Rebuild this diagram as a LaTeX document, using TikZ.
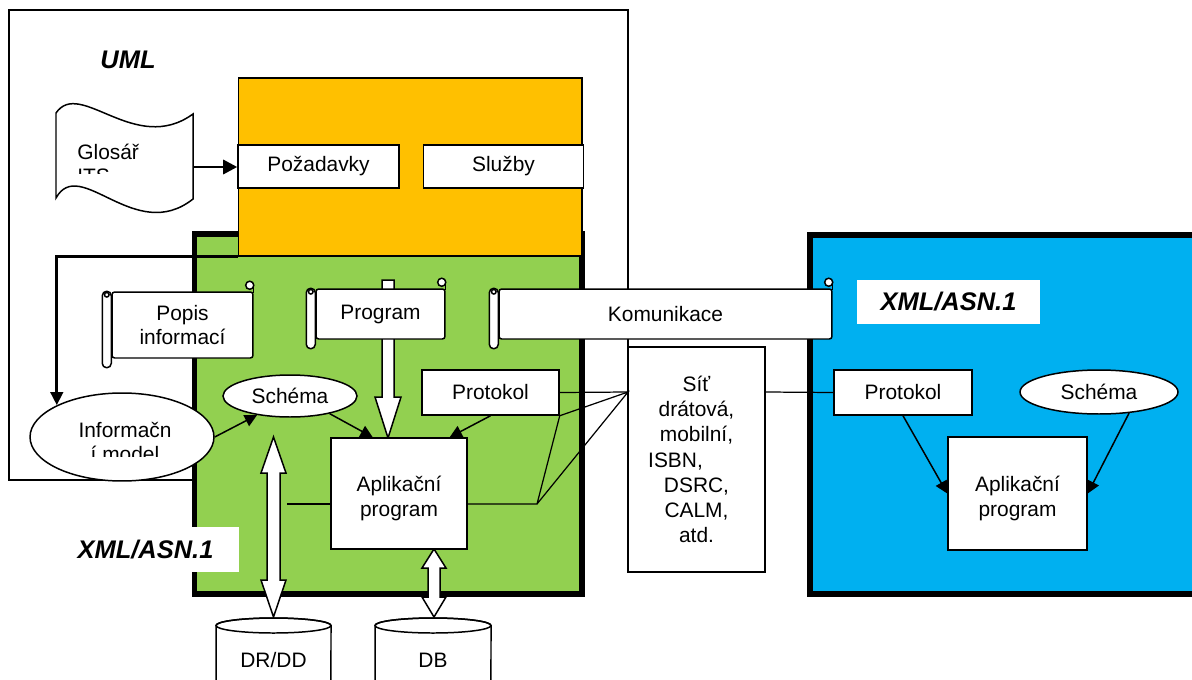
\documentclass[tikz,border=0pt]{standalone}
\usepackage{fontspec}
\setmainfont{Liberation Sans}
\usetikzlibrary{positioning,calc,arrows.meta,shapes.geometric}
\definecolor{oranzova}{HTML}{FFC000}
\definecolor{zelena}{HTML}{92D050}
\definecolor{modra}{HTML}{00B0F0}

\begin{document}
\begin{tikzpicture}[x=0.02cm,y=-0.02cm]
    \tikzset{Line/.style={%
        draw=black,%
        line width=0.85pt,%
    }}
    \tikzset{Box/.style={%
        shape=rectangle,%
        draw=black,%
        fill=white,%
        line width=0.85pt,%
        inner sep=1pt,%
        align=center,%
        font=\fontsize{11.9pt}{14.2pt}\selectfont,%
    }}
    \tikzset{Oval/.style={Box, shape=ellipse, inner sep=0pt}}
    \tikzset{Svitek/.style={Box, rounded corners=1.5pt}}
    \tikzset{Zone/.style={%
        shape=rectangle,%
        draw=black,%
        line width=3.3pt,%
        inner sep=0pt,%
    }}
    \tikzset{Text/.style={%
        inner sep=0pt,%
        align=center,%
        font=\fontsize{11.9pt}{14.2pt}\selectfont,%
    }}
    \tikzset{Label/.style={%
        inner sep=0pt,%
        font=\fontsize{14.5pt}{17pt}\selectfont\bfseries\itshape,%
    }}
    \tikzset{Arrow/.style={Line, -{Triangle[length=7pt,width=7pt]}}}
    \tikzset{Heavy/.style={draw=black, line width=1.7pt, -{Triangle[length=8pt,width=8pt]}}}
    \tikzset{Block/.style={Line, fill=white, line join=miter}}

    \useasboundingbox (0,0) rectangle (1192,679);
    \clip (0,0) rectangle (1192,679);

    % UML frame
    \draw[Line] (194,480) -- (9,480) -- (9,10) -- (628,10) -- (628,347);
    \node[Label] (uml) at (128,60) {UML};

    % zones
    \node[Zone, fill=zelena, minimum width=7.75cm, minimum height=7.2cm] (zelena) at (388.25,414) {};
    \node[Zone, fill=modra, minimum width=8cm, minimum height=7.18cm] (modra) at (1010,414.5) {};
    \node[Box, fill=oranzova, line width=0.6pt, minimum width=6.88cm, minimum height=3.56cm] (ucel) at (410,167) {};

    \node[Box, minimum width=3.22cm, minimum height=0.86cm] (pozad) at (318.5,166.5) {Požadavky};
    \node[Box, minimum width=3.2cm, minimum height=0.86cm, right=0.46cm of pozad] (sluzby) {Služby};

    % glossary tape
    \draw[Line, fill=white] (56,113) .. controls (80,78) and (135,156) .. (193,114)
        -- (193,199) .. controls (135,245) and (80,155) .. (56,198) -- cycle;
    \begin{scope}
        \clip (56,100) rectangle (193,173);
        \node[Text, align=left, anchor=north west, font=\fontsize{11.9pt}{13.5pt}\selectfont] (glosar) at (77,144) {Glosář\\ITS};
    \end{scope}
    \coordinate (glosar-e) at (193,167);
    \draw[Heavy] (glosar-e) -- (pozad.west |- glosar-e);

    % information model
    \node[Oval, minimum width=3.68cm, minimum height=1.76cm] (infmodel) at (122,437) {};
    \begin{scope}
        \clip (30,395) rectangle (215,456);
        \node[Text] (infmodel-t) at (125,442) {Informačn\\í model};
    \end{scope}
    \draw[Heavy, -{Triangle[length=7.4pt,width=7pt]}] (ucel.south west) -| (infmodel.154);

    % block arrows
    \draw[Block] (382,280) -- (382,397) -- (375,397) -- (388,438) -- (401,397) -- (394,397) -- (394,280) -- cycle;
    \draw[Block] (273.5,437) -- (286,473) -- (280,473) -- (280,580) -- (286,580) -- (273.5,617)
        -- (261,580) -- (267,580) -- (267,473) -- (261,473) -- cycle;
    \draw[Block] (434,549) -- (446,568) -- (440,568) -- (440,597) -- (446,597) -- (434,617)
        -- (422,597) -- (428,597) -- (428,568) -- (422,568) -- cycle;

    % scrolls
    \node[Svitek, minimum width=2.82cm, minimum height=1.32cm] (popis) at (182.5,325) {Popis\\informací};
    \node[Svitek, minimum width=2.58cm, minimum height=1cm] (program) at (380.5,314) {Program};
    \node[Svitek, minimum width=6.66cm, minimum height=1cm] (komunikace) at (665.5,314) {Komunikace};
    \foreach \s in {popis,program,komunikace}{
        \draw[Line, fill=white, rounded corners=2.5pt] ($(\s.north west)+(-9,0)$) rectangle ($(\s.south west)+(0,9)$);
        \draw[Line] ($(\s.north west)+(-4.5,3.5)$) circle[radius=1.3pt];
        \draw[Line] ($(\s.north east)+(0,2)$) -- ($(\s.north east)+(0,-4)$);
        \draw[Line, fill=white] ($(\s.north east)+(-4,-6)$) circle[radius=2.3pt];
    }

    % green zone
    \node[Oval, minimum width=2.68cm, minimum height=0.84cm] (schema) at (290,396) {Schéma};
    \node[Box, minimum width=2.74cm, minimum height=0.9cm] (protokol) at (490.5,392.5) {Protokol};
    \node[Box, minimum width=2.72cm, minimum height=2.22cm, text height=29pt] (aplikace) at (399,493.5) {Aplikační\\program};
    \draw[Arrow] (infmodel.east) -- (schema.210);
    \draw[Arrow] (schema.-24) -- (aplikace.115);
    \draw[Arrow] (protokol.south) -- (aplikace.48);

    % network
    \node[Box, minimum width=2.74cm, minimum height=4.5cm, font=\fontsize{11.9pt}{14.3pt}\selectfont] (sit) at (696.5,459.5)
        {Síť\\drátová,\\mobilní,\\\hspace*{-0.84cm}ISBN,\\DSRC,\\CALM,\\atd.};
    \coordinate (ohyb) at (537,504);
    \coordinate (sitport) at (628,392);
    \coordinate (dr-osa) at (287,504);
    \draw[Line, line width=0.7pt] (dr-osa) -- (aplikace.west |- dr-osa);
    \draw[Line, line width=0.7pt] (aplikace.east |- ohyb) -- (ohyb) -- (protokol.south east) -- (sitport) -- (ohyb);
    \draw[Line, line width=0.7pt] (protokol.east) -- (sitport);

    % blue zone
    \node[Box, minimum width=2.76cm, minimum height=0.9cm] (bprotokol) at (903,392.5) {Protokol};
    \node[Oval, minimum width=3.16cm, minimum height=0.88cm] (bschema) at (1099,392) {Schéma};
    \node[Box, minimum width=2.78cm, minimum height=2.26cm, text height=29pt] (baplikace) at (1017.5,493.5) {Aplikační\\program};
    \draw[Line, line width=0.7pt] (sit.east |- sitport) -- (bprotokol.west);
    \draw[Arrow] (bprotokol.south) -- (baplikace.west);
    \draw[Arrow] (bschema.-35) -- (baplikace.east);

    % databases
    \draw[Line, fill=white] (216,625.5) -- (216,688) arc[start angle=180, end angle=360, x radius=1.15cm, y radius=0.15cm]
        -- (331,625.5) arc[start angle=0, end angle=180, x radius=1.15cm, y radius=0.15cm] -- cycle;
    \draw[Line] (273.5,625.5) ellipse[x radius=1.15cm, y radius=0.15cm];
    \node[Text] (drdd) at (273.5,660) {DR/DD};
    \draw[Line, fill=white] (375,625.5) -- (375,688) arc[start angle=180, end angle=360, x radius=1.16cm, y radius=0.15cm]
        -- (491,625.5) arc[start angle=0, end angle=180, x radius=1.16cm, y radius=0.15cm] -- cycle;
    \draw[Line] (433,625.5) ellipse[x radius=1.16cm, y radius=0.15cm];
    \node[Text] (db) at (433,660) {DB};

    % labels
    \node[Label, fill=white, minimum width=3.74cm, minimum height=0.9cm] (xml-zelena) at (145.5,549.5) {XML/ASN.1};
    \node[Label, fill=white, minimum width=3.66cm, minimum height=0.88cm] (xml-modra) at (948.5,302) {XML/ASN.1};
\end{tikzpicture}
\end{document}
